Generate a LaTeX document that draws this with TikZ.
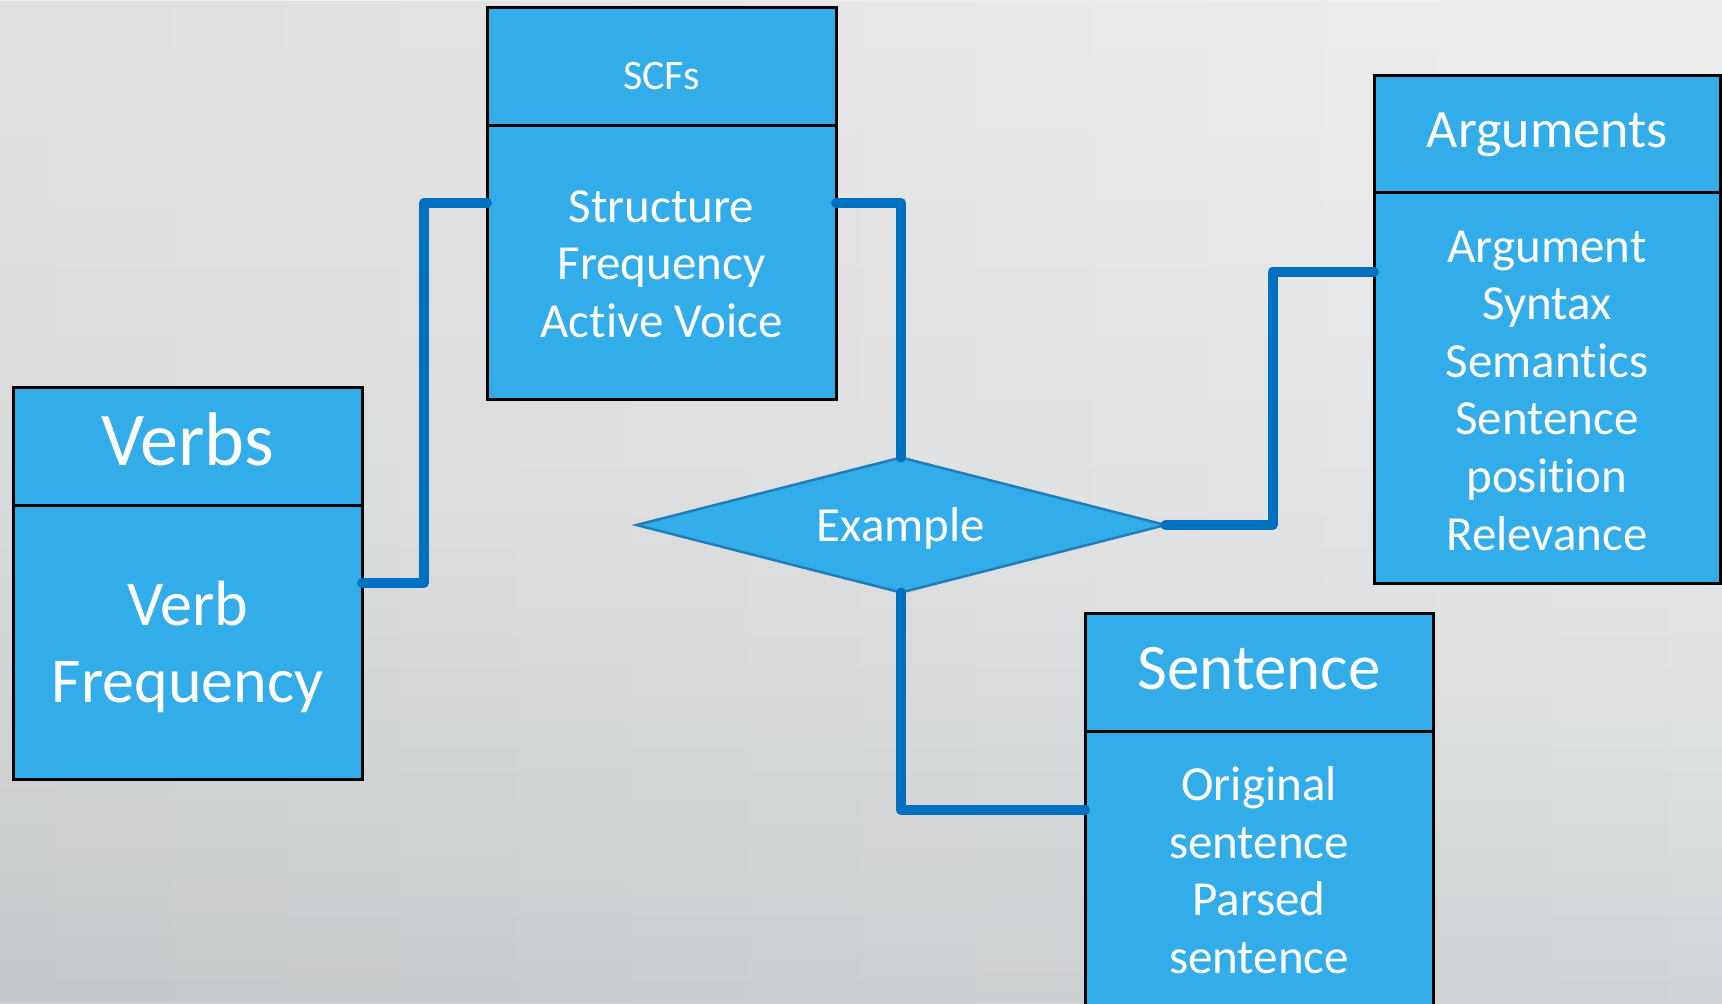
\documentclass[tikz,border=0pt]{standalone}
\usepackage{fontspec}
\setmainfont{Carlito}[Ligatures=CommonOff]
\usetikzlibrary{shapes.geometric,calc,fadings}

\definecolor{boxblue}{HTML}{33ACEA}
\definecolor{linkblue}{HTML}{0070C0}
\definecolor{edgeblue}{HTML}{1F7DBA}

% soft grey backdrop, light at the top and darker towards the bottom
\pgfdeclareverticalshading{backdrop}{100bp}{%
  color(0bp)=(rgb,255:red,186;green,191;blue,194);
  color(16bp)=(rgb,255:red,200;green,204;blue,207);
  color(32bp)=(rgb,255:red,216;green,219;blue,220);
  color(50bp)=(rgb,255:red,230;green,231;blue,232);
  color(70bp)=(rgb,255:red,237;green,237;blue,238);
  color(100bp)=(rgb,255:red,243;green,243;blue,243)}

\tikzfading[name=fadeleft, left color=transparent!0, right color=transparent!100]

\begin{document}
\begin{tikzpicture}[x=0.5pt, y=-0.5pt,
  cell/.style={draw=black, line width=1.5pt, fill=boxblue, text=white,
               inner sep=0pt, outer sep=0pt, minimum width=174.5pt, align=center},
  boxhead/.style={cell, minimum height=59pt},
  boxbody/.style={cell, anchor=north, minimum height=137pt},
  txt/.style={text=white, inner sep=0pt, align=center},
  conn/.style={draw=linkblue, line width=5pt, line cap=round, line join=round},
  ]

% page and background
\useasboundingbox (0,0) rectangle (1722,1003);
\clip (0,0) rectangle (1722,1003);
\shade[shading=backdrop] (0,0) rectangle (1722,1003);
\fill[black, opacity=0.06, path fading=fadeleft] (0,0) rectangle (1722,1003);

% Verbs
\node[boxhead] (vhead) at (187.5,446) {};
\node[boxbody] (vbody) at (vhead.south) {};
\node[txt, font=\fontsize{38}{44}\selectfont] (vtitle) at ($(vhead)+(0,-7)$) {Verbs};
\node[txt, font=\fontsize{32}{38.5}\selectfont] (vtext) at ($(vbody)+(0,5)$) {Verb\\Frequency};

% SCFs
\node[boxhead] (shead) at (661.5,66) {};
\node[boxbody] (sbody) at (shead.south) {};
\node[txt, font=\fontsize{21}{25}\selectfont] (stitle) at ($(shead)+(0,10)$) {SCFs};
\node[txt, font=\fontsize{24.5}{28.8}\selectfont] (stext) at ($(sbody)+(0,2)$)
  {Structure\\Frequency\\Active Voice};

% Arguments
\node[boxhead, minimum width=173pt, minimum height=58.5pt] (ahead) at (1547,133.5) {};
\node[boxbody, minimum width=173pt, minimum height=195.5pt] (abody) at (ahead.south) {};
\node[txt, font=\fontsize{27}{32}\selectfont] (atitle) at ($(ahead)+(0,1)$) {Arguments};
\node[txt, font=\fontsize{24.5}{28.8}\selectfont] (atext) at ($(abody)+(0,3)$)
  {Argument\\Syntax\\Semantics\\Sentence\\position\\Relevance};

% Sentence
\node[boxhead, minimum width=174pt] (thead) at (1259,672) {};
\node[boxbody, minimum width=174pt] (tbody) at (thead.south) {};
\node[txt, font=\fontsize{32.5}{38}\selectfont] (ttitle) at ($(thead)+(0,-3)$) {Sentence};
\node[txt, font=\fontsize{24.5}{28.8}\selectfont] (ttext) at ($(tbody)+(0,2)$)
  {Original\\sentence\\Parsed\\sentence};

% Example (relationship)
\node[shape=diamond, draw=edgeblue, line width=1.25pt, fill=boxblue,
      inner sep=0pt, outer sep=0pt, aspect=3.9,
      minimum width=264.5pt, minimum height=67.5pt] (ex) at (901,525) {};
\node[txt, font=\fontsize{24.5}{29}\selectfont] (extext) at ($(ex)+(0,3)$) {Example};

% connectors
\draw[conn] ($(vbody.north east)+(0,78)$) -- ++(62,0) |- ($(sbody.north west)+(0,78)$);
\draw[conn] ($(sbody.north east)+(0,78)$) -| (ex.north);
\draw[conn] (ex.east) -- ++(107,0) |- ($(abody.north west)+(0,80)$);
\draw[conn] (ex.south) |- ($(tbody.north west)+(0,79)$);

\end{tikzpicture}
\end{document}
